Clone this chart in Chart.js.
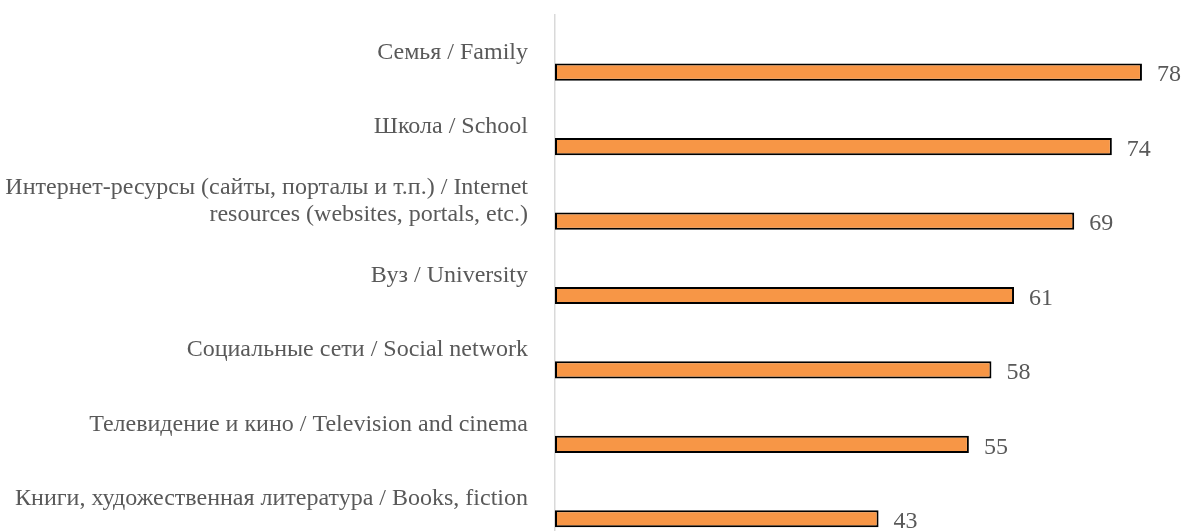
<!DOCTYPE html>
<html>
<head>
<meta charset="utf-8">
<script src="https://cdn.jsdelivr.net/npm/chart.js@4.4.1/dist/chart.umd.min.js"></script>
<style>
  html, body { margin: 0; padding: 0; background: #fff; overflow: hidden; }
  #wrap { width: 1186px; height: 536px; }
</style>
</head>
<body>
<div id="wrap"><canvas id="myChart"></canvas></div>
<script>
const categories = [
  'Семья / Family',
  'Школа / School',
  ['Интернет-ресурсы (сайты, порталы и т.п.) / Internet', 'resources (websites, portals, etc.)'],
  'Вуз / University',
  'Социальные сети / Social network',
  'Телевидение и кино / Television and cinema',
  'Книги, художественная литература / Books, fiction'
];
const values = [78, 74, 69, 61, 58, 55, 43];
const blank = [null, null, null, null, null, null, null]; // keeps the bars below their labels

const valueLabels = {
  id: 'valueLabels',
  afterDatasetsDraw(chart) {
    const ctx = chart.ctx;
    const meta = chart.getDatasetMeta(1);
    ctx.save();
    ctx.font = '24px "Liberation Serif", serif';
    ctx.fillStyle = '#595959';
    ctx.textAlign = 'left';
    ctx.textBaseline = 'middle';
    meta.data.forEach((bar, i) => {
      ctx.fillText(values[i], bar.x + 15, bar.y + 3);
    });
    ctx.restore();
  }
};

const ctx = document.getElementById('myChart');
new Chart(ctx, {
  type: 'bar',
  data: {
    labels: categories,
    datasets: [
      { data: blank },
      {
        data: values,
        backgroundColor: '#F79646',
        borderColor: '#000000',
        borderWidth: 2,
        borderSkipped: false
      }
    ]
  },
  options: {
    indexAxis: 'y',
    maintainAspectRatio: false,
    animation: false,
    categoryPercentage: 1.074,
    barPercentage: 0.43,
    layout: { padding: { top: 15, right: 29, left: 0, bottom: 0 } },
    plugins: { legend: false, tooltip: { enabled: false } },
    scales: {
      x: {
        display: false,
        min: 0,
        max: 80
      },
      y: {
        afterFit(scale) {
          scale.width = 555;
          scale.paddingTop = 0;
          scale.paddingBottom = 0;
        },
        grid: { display: false, drawTicks: false },
        border: { display: true, color: '#d9d9d9', width: 1.5 },
        ticks: {
          padding: 27,
          color: '#595959',
          font: { family: '"Liberation Serif", serif', size: 24, lineHeight: 1.15 }
        }
      }
    }
  },
  plugins: [valueLabels]
});
</script>
</body>
</html>
